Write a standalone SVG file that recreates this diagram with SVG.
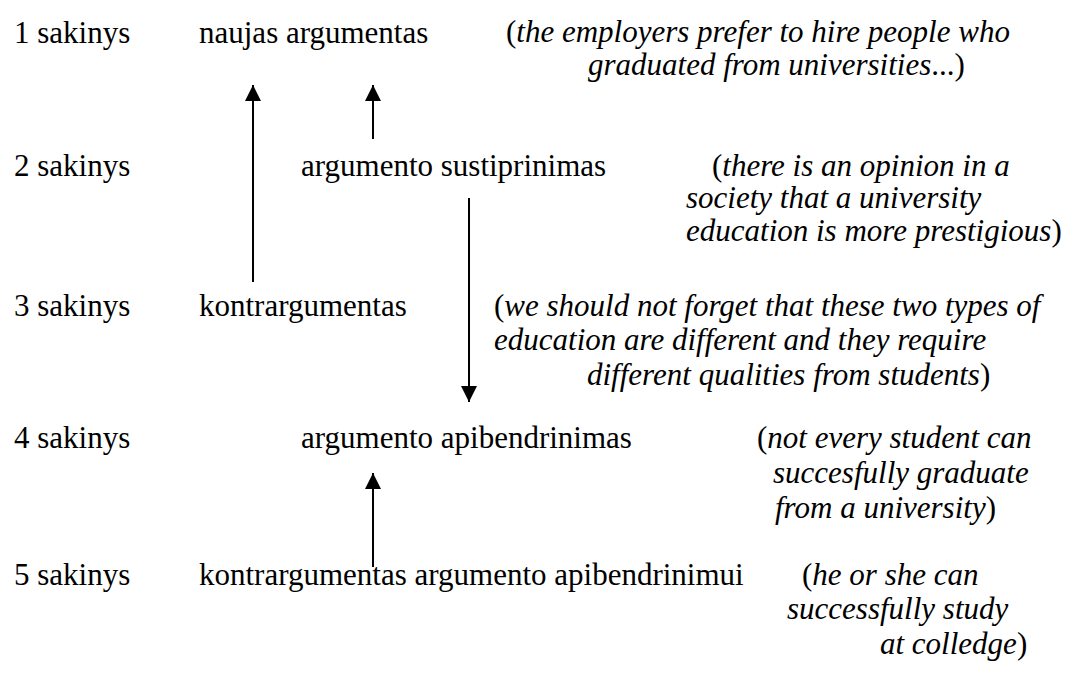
<svg xmlns="http://www.w3.org/2000/svg" width="1078" height="689" viewBox="0 0 1078 689">
<defs>
<style>
text{font-family:'Liberation Serif','Times New Roman',serif;font-size:31px;fill:#000}
.i{font-style:italic}
.c{stroke:#000;stroke-width:2;fill:none}
</style>
<marker id="ah" viewBox="0 0 16 16" refX="16" refY="8" markerWidth="16" markerHeight="16" markerUnits="userSpaceOnUse" orient="auto">
<path d="M0,0 L16,8 L0,16 Z" fill="#000"/>
</marker>
</defs>
<rect width="1078" height="689" fill="#fff"/>
<g id="row1">
<text x="14" y="43">1 sakinys</text>
<text id="n1" x="199" y="43">naujas argumentas</text>
<text x="506" y="42">(<tspan class="i">the employers prefer to hire people who</tspan></text>
<text x="588" y="75"><tspan class="i">graduated from universities</tspan>...)</text>
</g>
<g id="row2">
<text x="14" y="176">2 sakinys</text>
<text id="n2" x="301" y="176">argumento sustiprinimas</text>
<text x="712" y="176">(<tspan class="i">there is an opinion in a</tspan></text>
<text x="686" y="208" class="i">society that a university</text>
<text x="686" y="241"><tspan class="i">education is more prestigious</tspan>)</text>
</g>
<g id="row3">
<text x="14" y="316">3 sakinys</text>
<text id="n3" x="199" y="316">kontrargumentas</text>
<text x="494" y="316">(<tspan class="i">we should not forget that these two types of</tspan></text>
<text x="494" y="350" class="i">education are different and they require</text>
<text x="587" y="385"><tspan class="i">different qualities from students</tspan>)</text>
</g>
<g id="row4">
<text x="14" y="448">4 sakinys</text>
<text id="n4" x="301" y="448">argumento apibendrinimas</text>
<text x="757" y="448">(<tspan class="i">not every student can</tspan></text>
<text x="773" y="483" class="i">succesfully graduate</text>
<text x="775" y="518"><tspan class="i">from a university</tspan>)</text>
</g>
<g id="row5">
<text x="14" y="585">5 sakinys</text>
<text id="n5" x="199" y="585">kontrargumentas argumento apibendrinimui</text>
<text x="802" y="585">(<tspan class="i">he or she can</tspan></text>
<text x="787" y="619" class="i">successfully study</text>
<text x="880" y="654"><tspan class="i">at colledge</tspan>)</text>
</g>
<g id="connectors">
<line class="c" x1="253" y1="282" x2="253" y2="85" marker-end="url(#ah)"/>
<line class="c" x1="373" y1="139" x2="373" y2="85" marker-end="url(#ah)"/>
<line class="c" x1="469" y1="198" x2="469" y2="402" marker-end="url(#ah)"/>
<line class="c" x1="373" y1="567" x2="373" y2="473" marker-end="url(#ah)"/>
</g>
</svg>
